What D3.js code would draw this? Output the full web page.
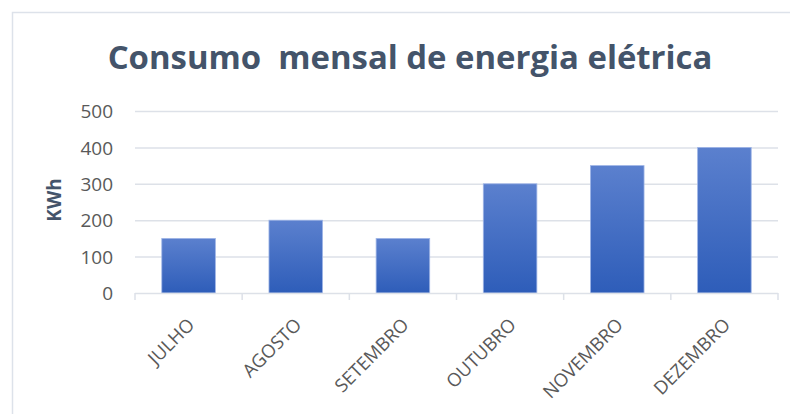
<!DOCTYPE html>
<html><head><meta charset="utf-8">
<script src="https://cdn.jsdelivr.net/npm/d3@7"></script>
<style>body{margin:0;background:#fff}svg{display:block}</style>
</head><body><svg id="c" width="790" height="414"></svg>
<script>
const categories = ["JULHO","AGOSTO","SETEMBRO","OUTUBRO","NOVEMBRO","DEZEMBRO"];
const values = [150,200,150,300,350,400];
const yTicks = [0,100,200,300,400,500];
const titleText = "Consumo\u00a0 mensal de energia elétrica";
const yTitle = "KWh";

const svg = d3.select("#c");
const m = {left:135, right:778, top:111, bottom:293};
svg.append("rect").attr("x",12.5).attr("y",12.5).attr("width",800).attr("height",420)
  .attr("fill","#fff").attr("stroke","#dde2ea").attr("stroke-width",1.5);

const defs = svg.append("defs");
const g = defs.append("linearGradient").attr("id","bg").attr("x1",0).attr("y1",0).attr("x2",0).attr("y2",1);
g.append("stop").attr("offset","0%").attr("stop-color","#5b80ce");
g.append("stop").attr("offset","100%").attr("stop-color","#2e5db9");

const x = d3.scaleBand().domain(categories).range([m.left,m.right]).paddingInner(0.5).paddingOuter(0.25);
const y = d3.scaleLinear().domain([0,500]).range([m.bottom,m.top]);

const font = "'Open Sans', 'Noto Sans', sans-serif";

// gridlines
svg.append("g").selectAll("line").data(yTicks.slice(1)).join("line")
  .attr("x1",m.left).attr("x2",m.right).attr("y1",d=>y(d)+0.5).attr("y2",d=>y(d)+0.5)
  .attr("stroke","#dde1e8").attr("stroke-width",1.5);

// y axis
const ya = svg.append("g").attr("transform",`translate(${m.left-22},0)`)
  .call(d3.axisLeft(y).tickValues(yTicks).tickSize(0).tickPadding(0));
ya.select(".domain").remove();
ya.selectAll("text").attr("font-family",font).attr("font-size",19).attr("fill","#595959").attr("dy","0.35em");

// bars
svg.append("g").selectAll("rect").data(values).join("rect")
  .attr("x",(d,i)=>x(categories[i])).attr("width",x.bandwidth())
  .attr("y",d=>y(d)).attr("height",d=>y(0)-y(d))
  .attr("fill","url(#bg)").attr("stroke","#9fb5e6").attr("stroke-width",0.8);

// x axis
const step = x.step();
const xa = svg.append("g").attr("transform",`translate(0,${m.bottom})`);
xa.append("line").attr("x1",m.left).attr("x2",m.right).attr("y1",0.5).attr("y2",0.5).attr("stroke","#dde1e8").attr("stroke-width",1.5);
const bounds = d3.range(categories.length+1).map(i=>m.left+i*step);
xa.selectAll("line.t").data(bounds).join("line").attr("class","t")
  .attr("x1",d=>d).attr("x2",d=>d).attr("y1",0).attr("y2",7).attr("stroke","#dde1e8").attr("stroke-width",1.5);
xa.selectAll("text").data(categories).join("text")
  .attr("transform",d=>`translate(${x(d)+x.bandwidth()/2+7},${33}) rotate(-45)`)
  .attr("text-anchor","end").attr("font-family",font).attr("font-size",18.5).attr("fill","#595959")
  .text(d=>d);

// y title
svg.append("text").attr("transform","translate(61,200) rotate(-90)").attr("text-anchor","middle")
  .attr("font-family",font).attr("font-weight",700).attr("font-size",19).attr("fill","#44546a").text(yTitle);

// title
const t = svg.append("text").attr("x",410).attr("y",69).attr("text-anchor","middle")
  .attr("font-family",font).attr("font-weight",700).attr("font-size",32).attr("fill","#44546a").text(titleText);
const w = t.node().getComputedTextLength();
t.attr("font-size",32*605/w);
</script></body></html>
